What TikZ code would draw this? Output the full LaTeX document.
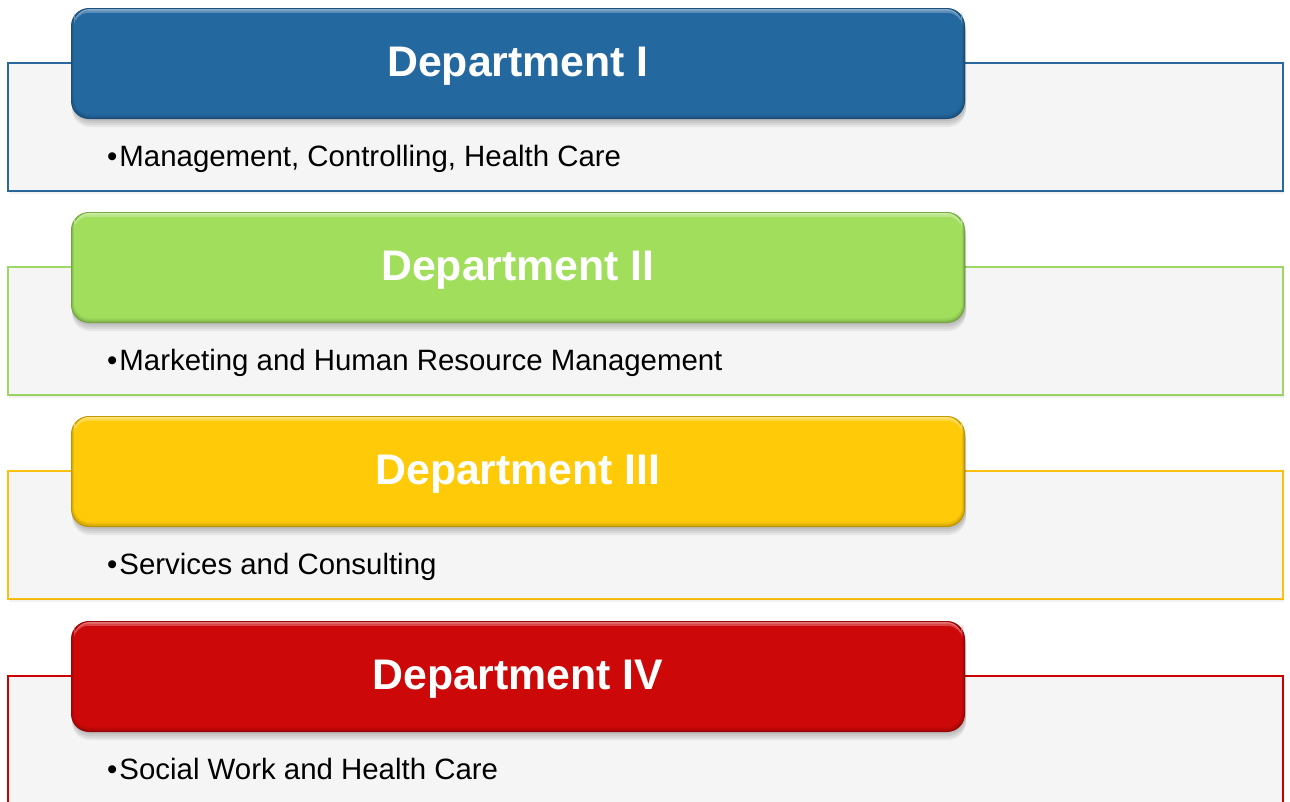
\documentclass[tikz,border=0pt]{standalone}
\usepackage{fontspec}
\setmainfont{Liberation Sans}
\definecolor{boxgray}{RGB}{245,245,245}
\definecolor{blueA}{RGB}{36,104,160}
\definecolor{blueE}{RGB}{42,104,158}
\definecolor{greenA}{RGB}{160,222,92}
\definecolor{greenE}{RGB}{158,216,100}
\definecolor{yellowA}{RGB}{255,202,8}
\definecolor{yellowE}{RGB}{252,192,16}
\definecolor{redA}{RGB}{204,8,8}
\definecolor{redE}{RGB}{204,0,0}
\tikzset{
  panelbox/.style={fill=boxgray, line width=1.6pt, inner sep=0pt, outer sep=0pt,
    minimum width=1275pt, minimum height=128pt, anchor=north west},
  headbox/.style={rounded corners=18pt, inner sep=0pt, outer sep=0pt,
    minimum width=894pt, minimum height=111pt, anchor=north west},
  headtext/.style={text=white, font=\fontsize{42.8}{50}\selectfont\bfseries, anchor=base},
  bodytext/.style={font=\fontsize{29.4}{34}\selectfont, anchor=base west, inner sep=0pt},
}
% one department: box, raised header, title and entry
\newcommand{\deptpanel}[6]{%
  % #1 top of the header, #2 name, #3 header colour, #4 box edge colour, #5 title, #6 entry
  \node[panelbox, draw=#4] (#2box) at (8,#1+55) {};
  \fill[black, opacity=0.05] (9,#1+55+128) rectangle (1284,#1+55+131);
  % soft drop shadow of the header
  \foreach \s in {2,4,6,8}
    \fill[black, opacity=0.06, rounded corners=18pt] (72,#1+\s) rectangle (966,#1+111+\s);
  \node[headbox, fill=#3!72!black] (#2head) at (71,#1) {};
  % bevel: darker rim fading inwards, light rim along the top
  \fill[#3!84!black, rounded corners=17.5pt] (71.8,#1+0.5) rectangle (964.2,#1+110);
  \fill[#3!93!black, rounded corners=17pt] (72.8,#1+1) rectangle (963.2,#1+108.5);
  \fill[#3, rounded corners=16pt] (74,#1+1.5) rectangle (962,#1+106.5);
  \fill[#3!55!white, rounded corners=16pt] (74,#1+1) rectangle (962,#1+20);
  \fill[#3!75!white, rounded corners=15pt] (74,#1+2.5) rectangle (962,#1+20);
  \fill[#3, rounded corners=14pt] (74,#1+5) rectangle (962,#1+30);
  \node[headtext] (#2title) at ([yshift=-68pt]#2head.north) {#5};
  \node[bodytext] (#2entry) at ([xshift=99pt,yshift=-103.5pt]#2box.north west) {\textbullet\hspace{2pt}#6};
}
\begin{document}
\begin{tikzpicture}[x=1pt, y=-1pt]
  \useasboundingbox (0,0) rectangle (1290,801);
  \clip (0,0) rectangle (1290,801);
  \deptpanel{8}{one}{blueA}{blueE}{Department I}{Management, Controlling, Health Care}
  \deptpanel{212}{two}{greenA}{greenE}{Department II}{Marketing and Human Resource Management}
  \deptpanel{416}{three}{yellowA}{yellowE}{Department III}{Services and Consulting}
  \deptpanel{621}{four}{redA}{redE}{Department IV}{Social Work and Health Care}
\end{tikzpicture}
\end{document}
